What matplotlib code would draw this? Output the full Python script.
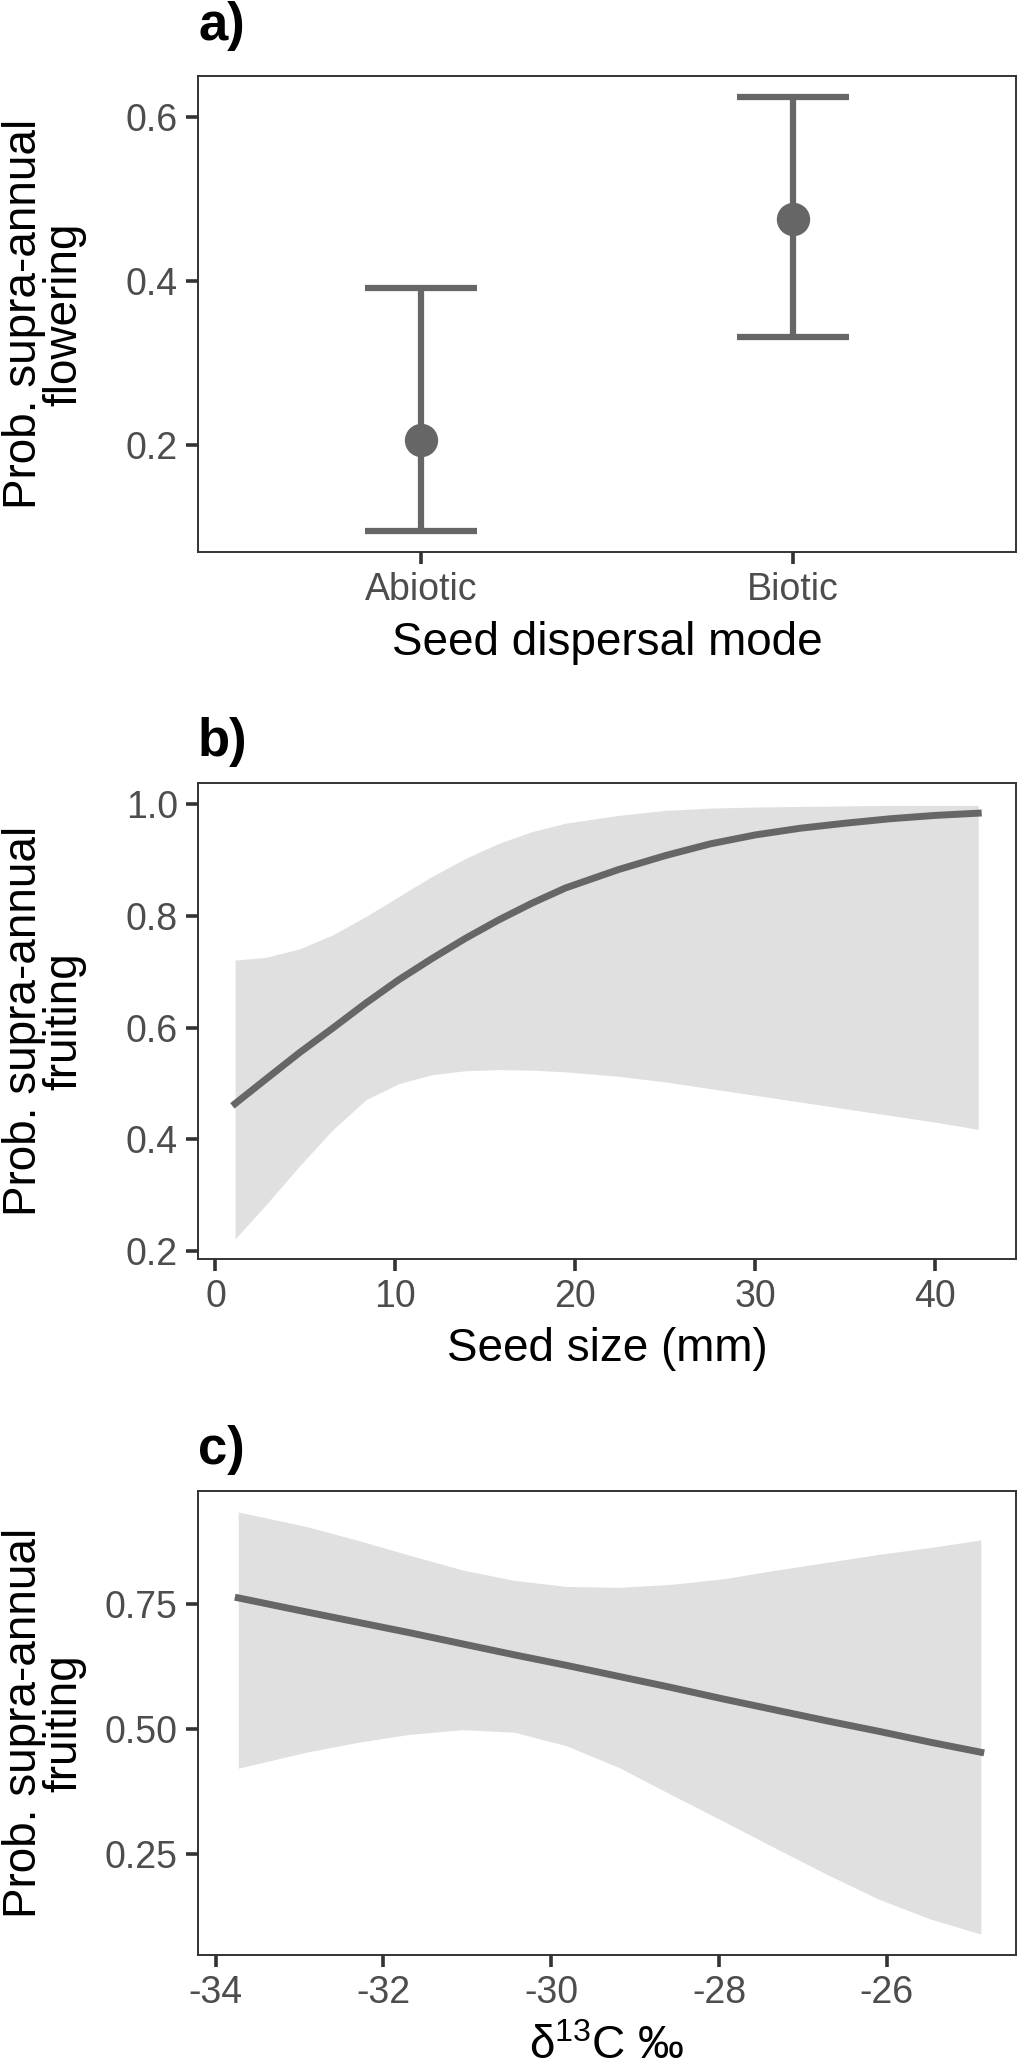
import matplotlib

matplotlib.use("Agg")
import matplotlib.pyplot as plt

plt.rcParams["font.family"] = ["Liberation Sans", "DejaVu Sans"]
plt.rcParams["mathtext.fontset"] = "custom"
plt.rcParams["mathtext.rm"] = "Liberation Sans"

# a) seed dispersal mode
modes = ["Abiotic", "Biotic"]
flower_prob = [0.206, 0.475]
flower_lo = [0.095, 0.331]
flower_hi = [0.391, 0.624]

# b) seed size
seed_size = [1.09, 2.81, 4.66, 6.51, 8.36, 10.2, 12.05, 13.9, 15.75, 17.6,
             19.45, 22.4, 25, 27.5, 30, 32.5, 35, 37.5, 40, 42.4]
size_fit = [0.464, 0.508, 0.555, 0.599, 0.644, 0.686, 0.724, 0.760, 0.793,
            0.823, 0.850, 0.883, 0.908, 0.929, 0.945, 0.957, 0.966, 0.974,
            0.980, 0.984]
size_hi = [0.721, 0.726, 0.741, 0.766, 0.799, 0.835, 0.871, 0.903, 0.930,
           0.951, 0.966, 0.980, 0.989, 0.993, 0.995, 0.996, 0.997, 0.998,
           0.998, 0.998]
size_lo = [0.222, 0.283, 0.352, 0.417, 0.471, 0.500, 0.516, 0.523, 0.525,
           0.524, 0.521, 0.513, 0.503, 0.491, 0.479, 0.467, 0.455, 0.443,
           0.431, 0.418]

# c) delta 13C
d13c = [-33.73, -32.92, -32.30, -31.68, -31.06, -30.44, -29.82, -29.20,
        -28.58, -27.96, -27.34, -26.72, -26.10, -25.48, -24.88]
d13c_fit = [0.762, 0.734, 0.713, 0.692, 0.670, 0.648, 0.627, 0.605, 0.583,
            0.560, 0.538, 0.516, 0.495, 0.473, 0.453]
d13c_hi = [0.934, 0.905, 0.877, 0.847, 0.818, 0.797, 0.785, 0.783, 0.789,
           0.800, 0.817, 0.833, 0.849, 0.863, 0.878]
d13c_lo = [0.421, 0.453, 0.473, 0.489, 0.498, 0.493, 0.466, 0.423, 0.369,
           0.316, 0.262, 0.209, 0.159, 0.119, 0.089]

LINE = "#666666"
RIBBON = "#E0E0E0"
FRAME = "#333333"
TICKTXT = "#4D4D4D"
W, H = 1017, 2069

fig = plt.figure(figsize=(W / 100, H / 100), dpi=100)


def make_axes(top, bottom):
    ax = fig.add_axes([198 / W, 1 - bottom / H, 818 / W, (bottom - top) / H])
    for s in ax.spines.values():
        s.set_color(FRAME)
        s.set_linewidth(1.4)
    ax.tick_params(length=8.5, width=2.6, color=FRAME, labelcolor=TICKTXT,
                   labelsize=27, pad=6)
    return ax


def style_labels(ax, xlabel, ylabel, xlab_y):
    ax.set_xlabel(xlabel, fontsize=33, va="top")
    ax.xaxis.set_label_coords(0.5, xlab_y)
    ax.set_ylabel(ylabel, fontsize=33, linespacing=0.9)
    ax.yaxis.set_label_coords(-0.136, 0.5)


def panel_tag(text, baseline):
    fig.text(198 / W, 1 - baseline / H, text, fontsize=38,
             fontweight="bold", va="baseline")


# panel a
ax1 = make_axes(76, 552)
ax1.errorbar(modes, flower_prob,
             yerr=[[p - l for p, l in zip(flower_prob, flower_lo)],
                   [h - p for p, h in zip(flower_prob, flower_hi)]],
             fmt="o", color=LINE, ms=23, elinewidth=4.5, capsize=40,
             capthick=4.5)
ax1.set_xlim(-0.6, 1.6)
ax1.set_ylim(0.069, 0.650)
ax1.set_yticks([0.2, 0.4, 0.6])
style_labels(ax1, "Seed dispersal mode", "Prob. supra-annual\nflowering", -0.145)
panel_tag("a)", 40)

# panel b
ax2 = make_axes(783, 1259)
ax2.fill_between(seed_size, size_lo, size_hi, color=RIBBON, lw=0)
ax2.plot(seed_size, size_fit, color=LINE, lw=5)
ax2.set_xlim(-0.97, 44.5)
ax2.set_ylim(0.186, 1.038)
ax2.set_xticks([0, 10, 20, 30, 40])
ax2.set_yticks([0.2, 0.4, 0.6, 0.8, 1.0])
ax2.set_yticklabels(["0.2", "0.4", "0.6", "0.8", "1.0"])
style_labels(ax2, "Seed size (mm)", "Prob. supra-annual\nfruiting", -0.143)
panel_tag("b)", 756)

# panel c
ax3 = make_axes(1491, 1955)
ax3.fill_between(d13c, d13c_lo, d13c_hi, color=RIBBON, lw=0)
ax3.plot(d13c, d13c_fit, color=LINE, lw=5)
ax3.set_xlim(-34.21, -24.46)
ax3.set_ylim(0.047, 0.976)
ax3.set_xticks([-34, -32, -30, -28, -26])
ax3.set_xticklabels(["-34", "-32", "-30", "-28", "-26"])
ax3.set_yticks([0.25, 0.50, 0.75])
ax3.set_yticklabels(["0.25", "0.50", "0.75"])
style_labels(ax3, "δ$^{13}$C ‰", "Prob. supra-annual\nfruiting", -0.150)
panel_tag("c)", 1464)

fig.savefig("out.png", dpi=100)
